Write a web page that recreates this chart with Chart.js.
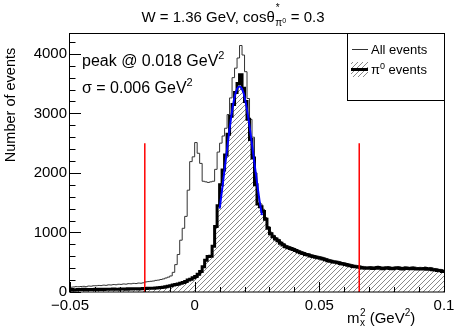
<!DOCTYPE html>
<html><head><meta charset="utf-8">
<script src="https://cdn.jsdelivr.net/npm/chart.js@4/dist/chart.umd.min.js"></script>
<style>html,body{margin:0;padding:0;background:#fff}canvas{display:block}</style>
</head><body>
<canvas id="c" width="463" height="333"></canvas>
<script>
// ---- data (bins of 0.001 GeV^2 from -0.05 to 0.1) ----
const binLow = -0.05;
const binWidth = 0.001;
const allEvents = [
  80,85,90,88,92,95,90,100,98,105,
  105,110,108,115,112,120,118,125,122,130,
  128,135,132,140,138,145,142,150,148,155,
  170,175,180,185,195,200,210,220,235,250,
  270,330,460,630,870,1070,1270,1710,2190,2270,
  2510,2330,2160,1860,1850,1840,1850,1860,2060,2350,
  2500,2620,2750,2980,3260,3600,3760,3930,4140,3980,
  3700,3250,2900,2600,2000,1600,1480,1390,1250,1100,
  1005,955,915,885,845,815,785,770,755,740,
  720,702,685,670,655,645,630,620,610,600,
  590,580,565,552,540,530,522,515,505,495,
  485,476,465,456,450,443,437,430,425,422,
  428,420,424,433,422,417,424,428,420,415,
  422,426,419,413,424,419,415,422,416,410,
  414,410,419,405,412,400,395,386,380,370
];
const pi0Events = [
  40,35,38,42,40,45,38,42,40,44,
  45,42,46,44,48,45,47,50,46,48,
  50,52,48,55,50,53,56,52,55,58,
  60,62,65,63,68,72,75,80,88,95,
  105,118,125,135,146,160,178,200,215,240,
  262,300,345,425,535,595,600,770,1100,1450,
  1800,2050,2300,2650,2950,3150,3350,3500,3650,3420,
  3200,2900,2560,2250,1800,1480,1430,1350,1220,1070,
  980,930,890,860,820,790,762,745,730,715,
  695,677,660,645,630,620,605,595,585,575,
  565,555,540,525,515,505,498,490,480,470,
  460,450,440,430,425,418,412,405,400,398,
  405,395,400,410,398,392,400,405,395,390,
  398,402,395,388,400,395,390,398,392,385,
  390,385,395,380,388,375,370,360,355,345
];
const fitX = [0.010,0.011,0.012,0.013,0.014,0.015,0.016,0.017,0.018,0.019,0.020,0.021,0.022,0.023,0.024,0.025,0.026,0.027];
const fitY = [1400,1720,2060,2400,2740,3040,3270,3410,3450,3410,3280,3060,2790,2480,2160,1840,1540,1290];
const cutLow = -0.02;
const cutHigh = 0.066;
const cutHeight = 2500;
const xTickValues = [-0.05, 0, 0.05, 0.1];
const xTickLabels = ['\u22120.05', '0', '0.05', '0.1'];
const yTickValues = [0, 1000, 2000, 3000, 4000];
const yTickLabels = ['0', '1000', '2000', '3000', '4000'];

function histPoints(vals) {
  const pts = vals.map((v, i) => ({x: binLow + i * binWidth, y: v}));
  pts.push({x: binLow + vals.length * binWidth, y: vals[vals.length - 1]});
  return pts;
}

const canvas = document.getElementById('c');
const cctx = canvas.getContext('2d');
function makeHatch() {
  const p = document.createElement('canvas');
  p.width = 5; p.height = 5;
  const g = p.getContext('2d');
  g.strokeStyle = '#7a7a7a'; g.lineWidth = 0.9;
  g.beginPath();
  g.moveTo(0, 5); g.lineTo(5, 0);
  g.moveTo(-1, 1); g.lineTo(1, -1);
  g.moveTo(4, 6); g.lineTo(6, 4);
  g.stroke();
  return cctx.createPattern(p, 'repeat');
}
const hatch = makeHatch();
const FONT = '"Liberation Sans", Arial, sans-serif';

function supText(ctx, parts, x, y) {
  // parts: [text, size, dy]
  let cx = x;
  for (const [t, s, dy] of parts) {
    ctx.font = s + 'px ' + FONT;
    ctx.fillText(t, cx, y + dy);
    cx += ctx.measureText(t).width;
  }
  return cx;
}
function partsWidth(ctx, parts) {
  let w = 0;
  for (const [t, s] of parts) { ctx.font = s + 'px ' + FONT; w += ctx.measureText(t).width; }
  return w;
}

const overlay = {
  id: 'overlay',
  afterDraw(chart) {
    const {ctx, chartArea: a, scales: {x, y}} = chart;
    ctx.save();
    ctx.strokeStyle = '#000'; ctx.fillStyle = '#000'; ctx.lineWidth = 1;
    // ticks
    ctx.beginPath();
    for (let k = 0; k <= 21; k++) {
      const v = k * 200;
      const py = Math.round(y.getPixelForValue(v)) + 0.5;
      const len = (k % 5 === 0) ? 11 : 5.5;
      ctx.moveTo(a.left, py); ctx.lineTo(a.left + len, py);
    }
    for (let k = 0; k <= 15; k++) {
      const v = -0.05 + k * 0.01;
      const px = Math.round(x.getPixelForValue(v)) + 0.5;
      const len = (k % 5 === 0) ? 10 : 5;
      ctx.moveTo(px, a.bottom); ctx.lineTo(px, a.bottom - len);
    }
    ctx.stroke();
    // frame
    ctx.strokeRect(Math.round(a.left) - 0.5, Math.round(a.top) + 0.5, Math.round(a.right - a.left) + 1, Math.round(a.bottom - a.top) - 0.5);

    // legend
    const lx = 347, ly = 33, lw = 97, lh = 67;
    ctx.fillStyle = '#fff';
    ctx.fillRect(lx, ly, lw, lh);
    ctx.strokeRect(lx + 0.5, ly + 0.5, lw, lh);
    ctx.fillStyle = hatch;
    ctx.fillRect(351, 62, 17, 15);
    ctx.strokeStyle = '#333';
    ctx.beginPath(); ctx.moveTo(352, 49.5); ctx.lineTo(368, 49.5); ctx.stroke();
    ctx.strokeStyle = '#000'; ctx.lineWidth = 3;
    ctx.beginPath(); ctx.moveTo(351, 69.5); ctx.lineTo(368, 69.5); ctx.stroke();
    ctx.lineWidth = 1;
    ctx.fillStyle = '#000';
    ctx.textBaseline = 'alphabetic'; ctx.textAlign = 'left';
    ctx.font = '13px ' + FONT;
    ctx.fillText('All events', 371, 54);
    supText(ctx, [['\u03c0', 13, 0], ['0', 9, -5], [' events', 13, 0]], 371, 74);

    // peak text
    supText(ctx, [['peak @ 0.018 GeV', 16, 0], ['2', 11, -7]], 82, 66);
    supText(ctx, [['\u03c3 = 0.006 GeV', 16, 0], ['2', 11, -7]], 82, 93);

    // title
    const tA = [['W = 1.36 GeV, cos\u03b8', 15, 0]];
    const tB = [[' = 0.3', 15, 0]];
    ctx.font = '10px ' + FONT;
    const piW = ctx.measureText('\u03c0').width;
    ctx.font = '7px ' + FONT;
    const zW = ctx.measureText('0').width;
    const total = partsWidth(ctx, tA) + piW + zW + 1 + partsWidth(ctx, tB);
    let tx = 233 - total / 2;
    const tyb = 22;
    tx = supText(ctx, tA, tx, tyb);
    ctx.font = '10px ' + FONT;
    ctx.fillText('\u03c0', tx + 0.5, tyb + 4);
    ctx.fillText('*', tx + 1, tyb - 11);
    ctx.font = '7px ' + FONT;
    ctx.fillText('0', tx + 0.5 + piW, tyb + 1);
    tx += piW + zW + 1;
    supText(ctx, tB, tx, tyb);

    // x axis title
    ctx.font = '15px ' + FONT;
    let ax = 347;
    const ab = 323;
    ctx.fillText('m', ax, ab); ax += ctx.measureText('m').width;
    ctx.font = '10px ' + FONT;
    ctx.fillText('2', ax + 0.5, ab - 7);
    ctx.fillText('x', ax + 0.5, ab + 3);
    ax += ctx.measureText('x').width + 1;
    ax = supText(ctx, [[' (GeV', 15, 0], ['2', 10, -7]], ax, ab);
    supText(ctx, [[')', 15, 0]], ax, ab);

    // y axis title
    ctx.save();
    ctx.translate(15, 105);
    ctx.rotate(-Math.PI / 2);
    ctx.textAlign = 'center';
    ctx.font = '14.5px ' + FONT;
    ctx.fillText('Number of events', 0, 0);
    ctx.restore();

    ctx.restore();
  }
};

new Chart(cctx, {
  type: 'line',
  data: {
    datasets: [
      {label: 'All events', data: histPoints(allEvents), stepped: true, borderColor: '#333', borderWidth: 1, pointRadius: 0, fill: false, order: 4},
      {label: 'pi0 events', data: histPoints(pi0Events), stepped: true, borderColor: '#000', borderWidth: 3, pointRadius: 0, fill: 'origin', backgroundColor: hatch, order: 3},
      {label: 'fit', data: fitX.map((v, i) => ({x: v, y: fitY[i]})), borderColor: '#0000ff', borderWidth: 2, pointRadius: 0, cubicInterpolationMode: 'monotone', fill: false, order: 2},
      {label: 'cut low', data: [{x: cutLow, y: 0}, {x: cutLow, y: cutHeight}], borderColor: '#ff0000', borderWidth: 1.5, pointRadius: 0, fill: false, order: 1},
      {label: 'cut high', data: [{x: cutHigh, y: 0}, {x: cutHigh, y: cutHeight}], borderColor: '#ff0000', borderWidth: 1.5, pointRadius: 0, fill: false, order: 1}
    ]
  },
  options: {
    responsive: false, animation: false, devicePixelRatio: 1,
    layout: {padding: {top: 33, right: 19, left: 0, bottom: 0}},
    plugins: {legend: {display: false}, tooltip: {enabled: false}},
    scales: {
      x: {
        type: 'linear', min: -0.05, max: 0.1,
        afterBuildTicks: s => { s.ticks = xTickValues.map(v => ({value: v})); },
        afterFit: s => { s.height = 41; },
        grid: {display: false, drawTicks: false}, border: {display: false},
        ticks: {color: '#000', font: {family: FONT, size: 15}, padding: 5, maxRotation: 0, autoSkip: false,
          callback: (v, i) => xTickLabels[i]}
      },
      y: {
        type: 'linear', min: 0, max: 4350,
        afterBuildTicks: s => { s.ticks = yTickValues.map(v => ({value: v})); },
        afterFit: s => { s.width = 70; },
        grid: {display: false, drawTicks: false}, border: {display: false},
        ticks: {color: '#000', font: {family: FONT, size: 15}, padding: 3, autoSkip: false,
          callback: (v, i) => yTickLabels[i]}
      }
    }
  },
  plugins: [overlay]
});
</script>
</body></html>
